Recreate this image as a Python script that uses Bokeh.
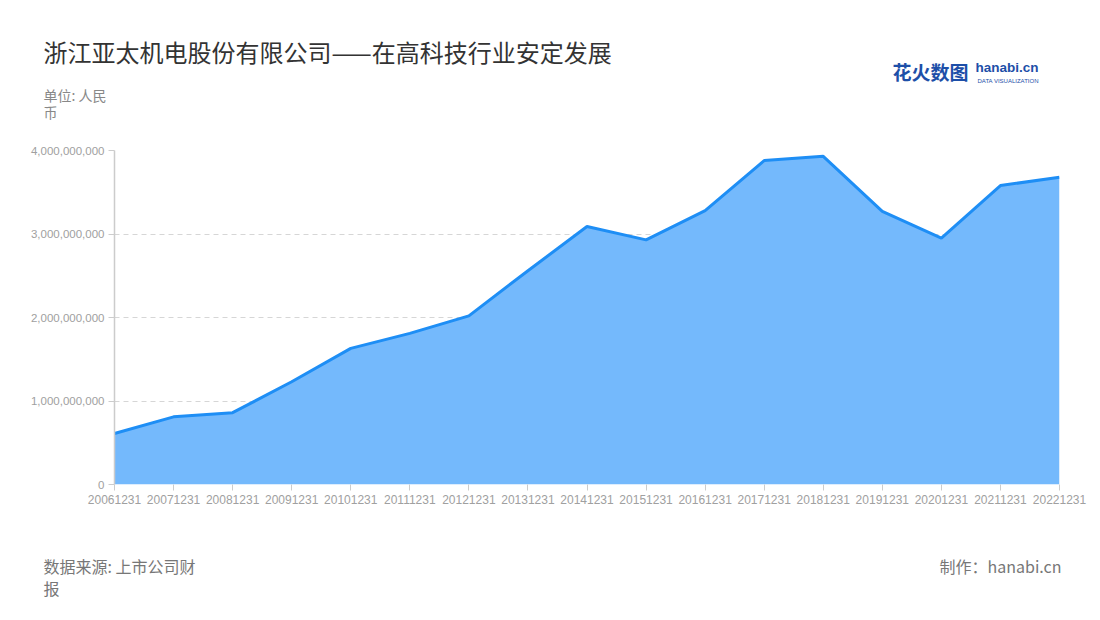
from bokeh.plotting import figure
from bokeh.layouts import column, row
from bokeh.models import Range1d, Label, NumeralTickFormatter, FixedTicker, ColumnDataSource
from bokeh.embed import file_html
from bokeh.resources import INLINE

dates = ["20061231", "20071231", "20081231", "20091231", "20101231", "20111231",
         "20121231", "20131231", "20141231", "20151231", "20161231", "20171231",
         "20181231", "20191231", "20201231", "20211231", "20221231"]
revenue = [0.61e9, 0.81e9, 0.86e9, 1.23e9, 1.63e9, 1.81e9, 2.02e9, 2.56e9, 3.09e9,
           2.93e9, 3.28e9, 3.88e9, 3.93e9, 3.27e9, 2.95e9, 3.58e9, 3.68e9]
y_ticks = [0, 1e9, 2e9, 3e9, 4e9]

FONT = "Noto Sans CJK SC"
TICK_FONT = "Liberation Sans"
xs = list(range(len(dates)))
src = ColumnDataSource(dict(x=xs, y=revenue, y0=[0] * len(xs)))

W = 1090
FL, FR = 114, 1059
H_TOP, H_MAIN, H_FOOT = 130, 400, 74
FRAME_TOP, FRAME_BOTTOM = 150, 484  # page coordinates


def text_panel(h):
    f = figure(width=W, height=h, output_backend="svg", toolbar_location=None,
               x_range=Range1d(0, 1), y_range=Range1d(0, 1),
               x_axis_location=None, y_axis_location=None,
               min_border=0, min_border_left=0, min_border_right=0,
               min_border_top=0, min_border_bottom=0)
    f.outline_line_color = None
    f.xgrid.grid_line_color = None
    f.ygrid.grid_line_color = None
    return f


top = text_panel(H_TOP)
foot = text_panel(H_FOOT)


def lab(fig, y0, h, cx, cy, text, size, color, align="left", style="normal", lh=1.2,
        font=FONT):
    fig.add_layout(Label(x=cx, y=h - (cy - y0), x_units="screen", y_units="screen",
                         text=text, text_font=font, text_font_size=size,
                         text_color=color, text_align=align, text_line_height=lh,
                         text_font_style=style, text_baseline="top"))


lab(top, 0, H_TOP, 43, 33, "浙江亚太机电股份有限公司——在高科技行业安定发展", "24px", "#333333")
lab(top, 0, H_TOP, 43, 84, "单位: 人民\n币", "14px", "#888888", lh=0.88)
lab(top, 0, H_TOP, 892, 57, "花火数图", "19px", "#1D4FA8", style="bold")
lab(top, 0, H_TOP, 975, 59, "hanabi.cn", "13.5px", "#1D4FA8", style="bold",
    font="Liberation Sans")
lab(top, 0, H_TOP, 977, 77, "DATA VISUALIZATION", "6px", "#1D4FA8", font="Liberation Sans")

y_foot = H_TOP + H_MAIN
lab(foot, y_foot, H_FOOT, 43, 553, "数据来源: 上市公司财\n报", "16px", "#777777", lh=0.92)
lab(foot, y_foot, H_FOOT, 1061, 553, "制作：hanabi.cn", "16px", "#777777", align="right")

p = figure(width=W, height=H_MAIN, output_backend="svg", toolbar_location=None,
           x_range=Range1d(0, len(dates) - 1), y_range=Range1d(0, 4e9),
           min_border_left=FL, min_border_right=W - FR,
           min_border_top=FRAME_TOP - H_TOP,
           min_border_bottom=H_TOP + H_MAIN - FRAME_BOTTOM)
p.outline_line_color = None
p.background_fill_color = "white"

p.varea(x="x", y1="y0", y2="y", source=src, fill_color="#74B9FC", fill_alpha=1)
p.line(x="x", y="y", source=src, line_color="#1E8EF5", line_width=3)

p.xaxis.ticker = FixedTicker(ticks=xs)
p.xaxis.major_label_overrides = {i: d for i, d in enumerate(dates)}
p.yaxis.ticker = FixedTicker(ticks=y_ticks)
p.yaxis.formatter = NumeralTickFormatter(format="0,0")

for ax in (p.xaxis[0], p.yaxis[0]):
    ax.axis_line_color = "#CCCCCC"
    ax.major_tick_line_color = "#CCCCCC"
    ax.minor_tick_line_color = None
    ax.major_label_text_color = "#A0A0A0"
    ax.major_label_text_font = TICK_FONT
    ax.major_label_text_font_size = "12px"
    ax.major_tick_out = 6
    ax.major_tick_in = 0
    ax.major_label_standoff = 4
p.yaxis.major_label_text_font_size = "11.5px"
p.xaxis.axis_line_color = None
p.yaxis.axis_line_width = 1.5

p.xgrid.grid_line_color = None
p.ygrid.grid_line_color = "#D6D6D6"
p.ygrid.grid_line_dash = "5 4"

layout = column(row(top), p, row(foot), spacing=0)
open("out.html", "w").write(file_html(layout, INLINE))
